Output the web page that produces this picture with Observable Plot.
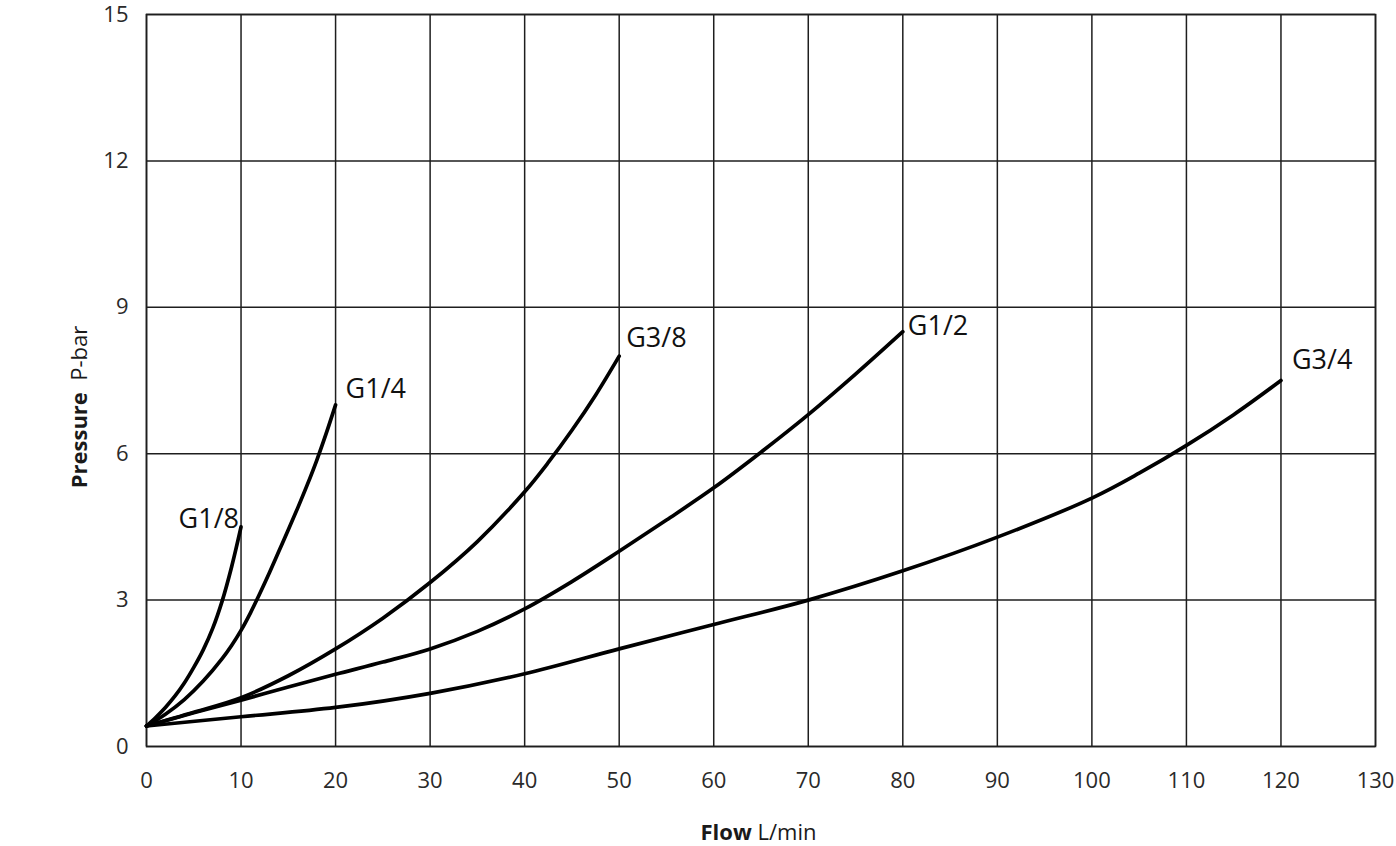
<!DOCTYPE html>
<html>
<head>
<meta charset="utf-8">
<script src="https://cdn.jsdelivr.net/npm/d3@7"></script>
<script src="https://cdn.jsdelivr.net/npm/@observablehq/plot@0.6"></script>
<style>
  html, body { margin: 0; padding: 0; background: #fff; }
  #chart svg { display: block; }
</style>
</head>
<body>
<div id="chart"></div>
<script>
// Pressure drop vs. flow for each port size
const flowTicks = [0, 10, 20, 30, 40, 50, 60, 70, 80, 90, 100, 110, 120, 130];
const pressureTicks = [0, 3, 6, 9, 12, 15];

const seriesNames = ["G1/8", "G1/4", "G3/8", "G1/2", "G3/4"];

const g18Flow     = [0, 1, 2, 3, 4, 5, 6, 7, 8, 9, 10];
const g18Pressure = [0.42, 0.6, 0.8, 1.03, 1.3, 1.62, 1.98, 2.42, 2.98, 3.68, 4.5];

const g14Flow     = [0, 2, 4, 6, 8, 9, 10, 11, 12, 13, 14, 15, 16, 17, 18, 19, 20];
const g14Pressure = [0.42, 0.66, 0.96, 1.34, 1.8, 2.07, 2.38, 2.74, 3.14, 3.56, 4.0, 4.44, 4.89, 5.36, 5.86, 6.41, 7.0];

const g38Flow     = [0, 5, 10, 15, 20, 25, 30, 35, 40, 42.5, 45, 47.5, 50];
const g38Pressure = [0.42, 0.7, 1.0, 1.45, 2.0, 2.63, 3.36, 4.2, 5.22, 5.82, 6.48, 7.2, 8.0];

const g12Flow     = [0, 5, 10, 15, 20, 25, 30, 35, 40, 45, 50, 55, 60, 65, 70, 75, 80];
const g12Pressure = [0.42, 0.69, 0.95, 1.22, 1.48, 1.73, 2.0, 2.36, 2.82, 3.38, 4.0, 4.64, 5.3, 6.03, 6.8, 7.63, 8.5];

const g34Flow     = [0, 10, 20, 30, 40, 50, 60, 70, 80, 90, 100, 105, 110, 115, 120];
const g34Pressure = [0.42, 0.61, 0.8, 1.09, 1.49, 2.0, 2.5, 3.0, 3.6, 4.29, 5.09, 5.6, 6.17, 6.8, 7.5];

const seriesFlow = [g18Flow, g14Flow, g38Flow, g12Flow, g34Flow];
const seriesPressure = [g18Pressure, g14Pressure, g38Pressure, g12Pressure, g34Pressure];

// Long-format table for the line mark
const rows = seriesNames.flatMap((name, i) =>
  seriesFlow[i].map((f, j) => ({series: name, flow: f, pressure: seriesPressure[i][j]}))
);
// End point of each curve, where its label sits
const ends = seriesNames.map((name, i) => ({
  series: name,
  flow: seriesFlow[i][seriesFlow[i].length - 1],
  pressure: seriesPressure[i][seriesPressure[i].length - 1]
}));

// Label placement relative to each curve's end point
const labelPlacement = {
  "G1/8": {textAnchor: "end", dx: -2, dy: -8},
  "G1/4": {textAnchor: "start", dx: 10, dy: -16},
  "G3/8": {textAnchor: "start", dx: 7, dy: -18},
  "G1/2": {textAnchor: "start", dx: 5, dy: -5},
  "G3/4": {textAnchor: "start", dx: 11, dy: -20}
};

const W = 1396, H = 846;
const mL = 146, mR = 21, mT = 14, mB = 100;
const ink = "#1e1e1e";

const plot = Plot.plot({
  width: W,
  height: H,
  marginLeft: mL,
  marginRight: mR,
  marginTop: mT,
  marginBottom: mB,
  style: {fontFamily: "'Open Sans', 'Noto Sans', sans-serif", fontSize: "22px", color: "#2a2a2a", background: "#fff", overflow: "visible"},
  x: {domain: [0, 130], label: null},
  y: {domain: [0, 15], label: null},
  marks: [
    Plot.gridX(flowTicks, {stroke: ink, strokeOpacity: 1, strokeWidth: 1.5}),
    Plot.gridY(pressureTicks, {stroke: ink, strokeOpacity: 1, strokeWidth: 1.5}),
    Plot.frame({stroke: ink, strokeWidth: 1.6}),
    Plot.axisX(flowTicks, {tickSize: 0, tickPadding: 26, label: null, fontSize: 22}),
    Plot.axisY(pressureTicks, {tickSize: 0, tickPadding: 18, label: null, fontSize: 22}),
    Plot.line(rows, {x: "flow", y: "pressure", z: "series", stroke: "#000", strokeWidth: 3.7, curve: "catmull-rom", strokeLinejoin: "round"}),
    ...seriesNames.map(name => Plot.text(ends.filter(d => d.series === name), {
      x: "flow", y: "pressure", text: "series",
      fontSize: 27, fill: "#111",
      ...labelPlacement[name]
    }))
  ]
});

// Axis titles: bold quantity name followed by the unit
const svg = d3.select(plot);
const xt = svg.append("text")
  .attr("x", (mL + W - mR) / 2 - 2)
  .attr("y", 840)
  .attr("text-anchor", "middle")
  .attr("font-size", 22)
  .attr("fill", "#1a1a1a");
xt.append("tspan").attr("font-weight", "bold").text("Flow");
xt.append("tspan").text(" L/min");

const yt = svg.append("text")
  .attr("transform", "translate(87,407) rotate(-90)")
  .attr("text-anchor", "middle")
  .attr("font-size", 22)
  .attr("fill", "#1a1a1a");
yt.append("tspan").attr("font-weight", "bold").text("Pressure");
yt.append("tspan").text("  P-bar");

document.getElementById("chart").appendChild(plot);
</script>
</body>
</html>
